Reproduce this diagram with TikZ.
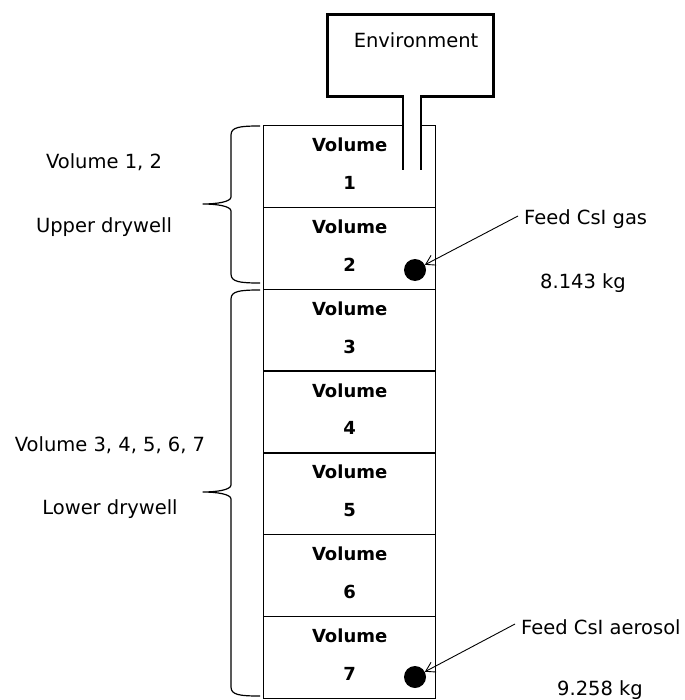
\documentclass[tikz,border=0pt]{standalone}
\usepackage{fontspec}
\setmainfont{DejaVu Sans}
\usetikzlibrary{arrows.meta}
\begin{document}
\begin{tikzpicture}[x=1pt,y=-1pt,
  txt/.style={font=\fontsize{19.5}{23}\selectfont, inner sep=2pt},
  cell/.style={draw, line width=1.3pt, minimum width=172pt, minimum height=81.8pt,
    inner sep=0pt, anchor=north west},
  vname/.style={font=\fontsize{18}{21}\selectfont\bfseries, inner sep=0pt},
  envbox/.style={draw, line width=3pt, minimum width=166pt, minimum height=82pt, inner sep=0pt},
  dot/.style={circle, fill=black, minimum size=22pt, inner sep=0pt},
  feed/.style={line width=0.9pt, -{Straight Barb[length=9pt, width=11pt, line width=0.9pt]}},
  brace/.style={line width=1.2pt, line join=round}
]
\useasboundingbox (0,0) rectangle (684,700);

% column of seven volumes
\foreach \i in {1,...,7} {
  \node[cell] (v\i) at (263, {125+(\i-1)*81.8}) {};
  \node[vname] (t\i) at ([yshift=-20pt]v\i.north) {Volume};
  \node[vname] (n\i) at ([yshift=-58pt]v\i.north) {\i};
}

% environment box and the duct into volume 1
\node[envbox] (env) at (410,56) {};
\node[txt] (envt) at ([xshift=6pt,yshift=-27pt]env.north) {Environment};
\coordinate (cl) at ([xshift=-7pt]env.south);
\coordinate (cr) at ([xshift=11pt]env.south);
\fill[white] ([xshift=0.8pt,yshift=3pt]cl) rectangle ([xshift=-0.8pt,yshift=-35pt]cr);
\draw[line width=1.2pt] ([yshift=1.5pt]cl) -- ++(0,73.5);
\draw[line width=1.2pt] ([yshift=1.5pt]cr) -- ++(0,73.5);

% feed points
\node[dot] (d2) at (415,270) {};
\node[dot] (d7) at (415,677) {};
\node[txt, anchor=west] (f2) at (522,219) {Feed CsI gas};
\node[txt] (m2) at (583,283) {8.143 kg};
\node[txt, anchor=west] (f7) at (519,627) {Feed CsI aerosol};
\node[txt] (m7) at (600,690) {9.258 kg};
\draw[feed] ([shift={(-4pt,3pt)}]f2.west) -- (d2);
\draw[feed] ([shift={(-4pt,3pt)}]f7.west) -- (d7);

% region labels
\node[txt] (l1) at (104,162) {Volume 1, 2};
\node[txt] (l2) at (104,227) {Upper drywell};
\node[txt] (l3) at (110,445) {Volume 3, 4, 5, 6, 7};
\node[txt] (l4) at (110,509) {Lower drywell};

% braces
\draw[brace] (260,126) .. controls (240,126) and (231,127) .. (231,135) -- (231,197)
  .. controls (231,202) and (216,204) .. (203,204)
  .. controls (216,204) and (231,206) .. (231,211) -- (231,274)
  .. controls (231,282) and (240,283) .. (260,283);
\draw[brace] (260,290) .. controls (240,290) and (231,291) .. (231,299) -- (231,485)
  .. controls (231,490) and (216,492) .. (203,492)
  .. controls (216,492) and (231,494) .. (231,499) -- (231,687)
  .. controls (231,695) and (240,696) .. (260,696);
\end{tikzpicture}
\end{document}
